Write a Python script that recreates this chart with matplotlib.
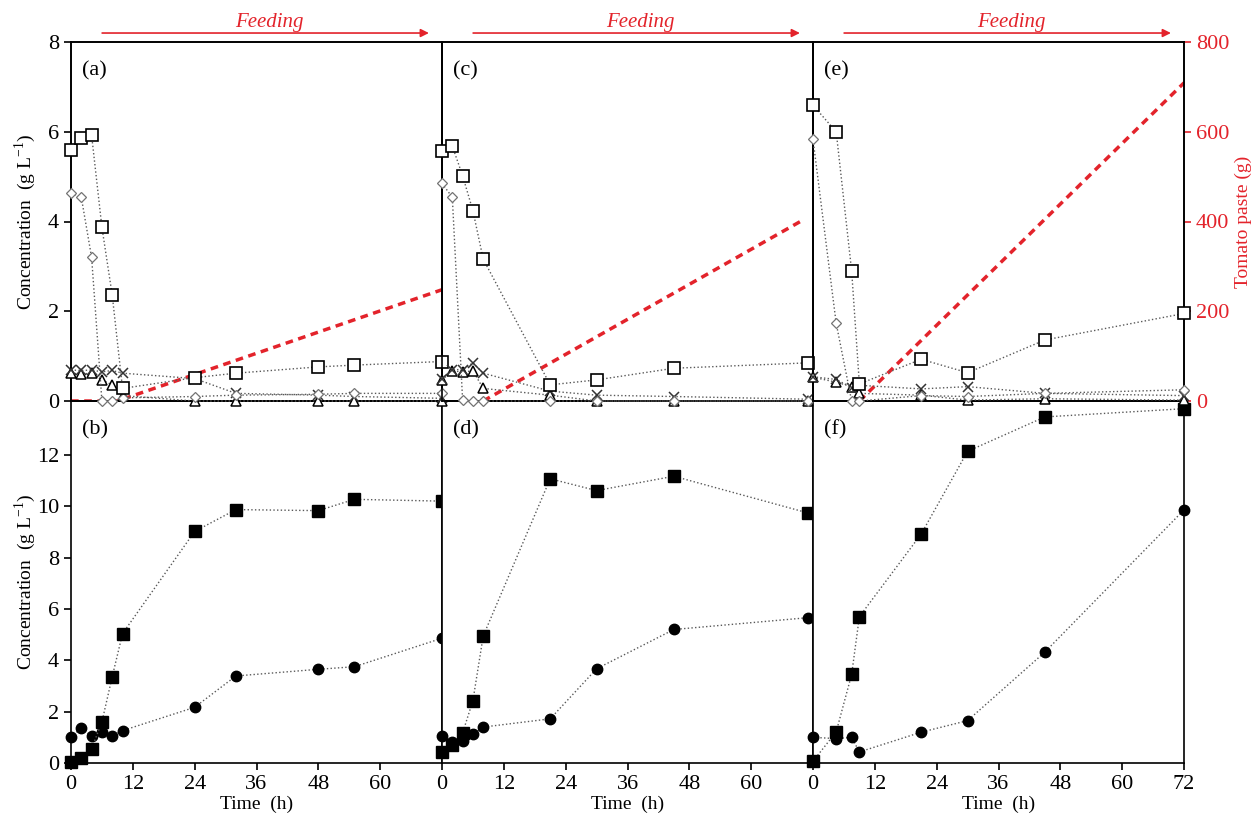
import matplotlib
matplotlib.use('Agg')
import matplotlib.pyplot as plt

plt.rcParams['font.family'] = ['Liberation Serif', 'DejaVu Serif']
plt.rcParams['mathtext.fontset'] = 'custom'
plt.rcParams['mathtext.rm'] = 'Liberation Serif'

RED = '#e3232b'
LINE = '0.35'

# run 1 -> panels (a), (b)
t1 = [0, 2, 4, 6, 8, 10, 24, 32, 48, 55, 72]
sq1 = [5.59, 5.85, 5.92, 3.87, 2.36, 0.28, 0.52, 0.62, 0.76, 0.80, 0.88]
dia1 = [4.63, 4.54, 3.2, 0, 0, 0.07, 0.1, 0.13, 0.15, 0.17, 0.17]
x1 = [0.69, 0.68, 0.69, 0.65, 0.68, 0.62, 0.5, 0.17, 0.13, 0.1, 0.06]
tri1 = [0.62, 0.6, 0.62, 0.47, 0.36, 0.12, 0, 0, 0, 0, 0]
fsq1 = [0.05, 0.2, 0.56, 1.6, 3.36, 5.04, 9.02, 9.87, 9.83, 10.27, 10.2]
fci1 = [1.0, 1.37, 1.04, 1.21, 1.07, 1.26, 2.17, 3.39, 3.65, 3.75, 4.86]
feed_t1 = [0, 9, 72]
feed1 = [0, 0, 248]

# run 2 -> panels (c), (d)
t2 = [0, 2, 4, 6, 8, 21, 30, 45, 71]
sq2 = [5.57, 5.68, 5.02, 4.24, 3.16, 0.36, 0.47, 0.73, 0.85]
dia2 = [4.85, 4.54, 0.02, 0, 0, 0, 0, 0, 0]
x2 = [0.5, 0.7, 0.7, 0.85, 0.62, 0.22, 0.13, 0.1, 0.04]
tri2 = [0.47, 0.67, 0.65, 0.67, 0.28, 0.13, 0, 0, 0]
fsq2 = [0.43, 0.72, 1.17, 2.43, 4.95, 11.07, 10.61, 11.17, 9.74]
fci2 = [1.04, 0.82, 0.85, 1.13, 1.4, 1.72, 3.67, 5.2, 5.66]
feed_t2 = [8, 70]
feed2 = [0, 403]

# run 3 -> panels (e), (f)
t3 = [0, 4.5, 7.5, 9, 21, 30, 45, 72]
sq3 = [6.59, 6.0, 2.9, 0.38, 0.93, 0.63, 1.36, 1.95]
dia3 = [5.83, 1.73, 0, 0, 0.12, 0.1, 0.17, 0.25]
x3 = [0.54, 0.48, 0.3, 0.35, 0.27, 0.32, 0.17, 0.12]
tri3 = [0.53, 0.42, 0.32, 0.17, 0.13, 0.02, 0.05, 0.02]
fsq3 = [0.07, 1.21, 3.45, 5.7, 8.92, 12.14, 13.48, 13.8]
fci3 = [1.0, 0.95, 1.0, 0.43, 1.2, 1.65, 4.32, 9.86]
feed_t3 = [9, 72]
feed3 = [0, 709]

runs = [
    (t1, sq1, dia1, x1, tri1, fsq1, fci1, feed_t1, feed1, '(a)', '(b)'),
    (t2, sq2, dia2, x2, tri2, fsq2, fci2, feed_t2, feed2, '(c)', '(d)'),
    (t3, sq3, dia3, x3, tri3, fsq3, fci3, feed_t3, feed3, '(e)', '(f)'),
]

fig = plt.figure(figsize=(12.56, 8.25), dpi=100)

lefts = [71 / 1256, 442 / 1256, 813 / 1256]
w = 371 / 1256
top_b, top_h = 1 - 401 / 825, 359 / 825
bot_b, bot_h = 1 - 763 / 825, 362 / 825

kw = dict(ls=':', lw=1.0, color=LINE, clip_on=False)

for i, (t, sq, dia, xx, tri, fsq, fci, ft, fd, lt, lb) in enumerate(runs):
    ax = fig.add_axes([lefts[i], top_b, w, top_h])
    axb = fig.add_axes([lefts[i], bot_b, w, bot_h])

    # top panel: substrates
    ax.plot(t, tri, marker='^', ms=7, mfc='white', mec='black', mew=1.1, zorder=3, **kw)
    ax.plot(t, xx, marker='x', ms=7, mec='0.2', mew=1.1, zorder=3, **kw)
    ax.plot(t, dia, marker='D', ms=5.5, mfc='white', mec='0.45', mew=0.9, zorder=3, **kw)
    ax.plot(t, sq, marker='s', ms=8.5, mfc='white', mec='black', mew=1.2, zorder=4, **kw)
    ax.set_xlim(0, 72)
    ax.set_ylim(0, 8)
    ax.set_xticks([])
    ax.text(0.03, 0.92, lt, transform=ax.transAxes, fontsize=16, va='center')

    # feed of tomato paste
    ax2 = ax.twinx()
    ax2.plot(ft, fd, ls=(0, (2.2, 1.6)), lw=2.5, color=RED, zorder=2)
    ax2.set_ylim(0, 800)
    ax2.set_xlim(0, 72)
    ax.set_zorder(ax2.get_zorder() + 1)
    ax.patch.set_visible(False)

    # feeding arrow
    ax.annotate('', xy=(70, 1.025), xytext=(5.5, 1.025),
                xycoords=('data', 'axes fraction'),
                arrowprops=dict(arrowstyle='-|>', color=RED, lw=1.2, mutation_scale=12))
    ax.text(38.5, 1.055, 'Feeding', transform=ax.get_xaxis_transform(),
            color=RED, style='italic', fontsize=15, ha='center', va='center')

    # bottom panel: products
    axb.plot(t, fsq, marker='s', ms=8.5, mfc='black', mec='black', zorder=4, **kw)
    axb.plot(t, fci, marker='o', ms=7.5, mfc='black', mec='black', zorder=3, **kw)
    axb.set_xlim(0, 72)
    axb.set_ylim(0, 14.1)
    axb.text(0.03, 0.92, lb, transform=axb.transAxes, fontsize=16, va='center')
    axb.set_xlabel('Time  (h)', fontsize=14, labelpad=1)
    if i < 2:
        axb.set_xticks([0, 12, 24, 36, 48, 60])
    else:
        axb.set_xticks([0, 12, 24, 36, 48, 60, 72])

    for a in (ax, axb, ax2):
        for s in a.spines.values():
            s.set_linewidth(1.2)
        a.tick_params(direction='out', length=5, width=1.2, labelsize=16)

    if i == 0:
        ax.set_yticks([0, 2, 4, 6, 8])
        axb.set_yticks([0, 2, 4, 6, 8, 10, 12])
        ax.set_ylabel('Concentration  (g L$^{-1}$)', fontsize=14)
        axb.set_ylabel('Concentration  (g L$^{-1}$)', fontsize=14)
        ax.yaxis.set_label_coords(-0.089, 0.5)
        axb.yaxis.set_label_coords(-0.089, 0.5)
    else:
        ax.set_yticks([])
        axb.set_yticks([])

    if i == 2:
        ax2.set_yticks([0, 200, 400, 600, 800])
        ax2.tick_params(axis='y', colors=RED, labelsize=16)
        ax2.spines['right'].set_color('black')
        ax2.set_ylabel('Tomato paste (g)', color=RED, fontsize=14, labelpad=4)
    else:
        ax2.set_yticks([])

fig.savefig('out.png', dpi=100)
